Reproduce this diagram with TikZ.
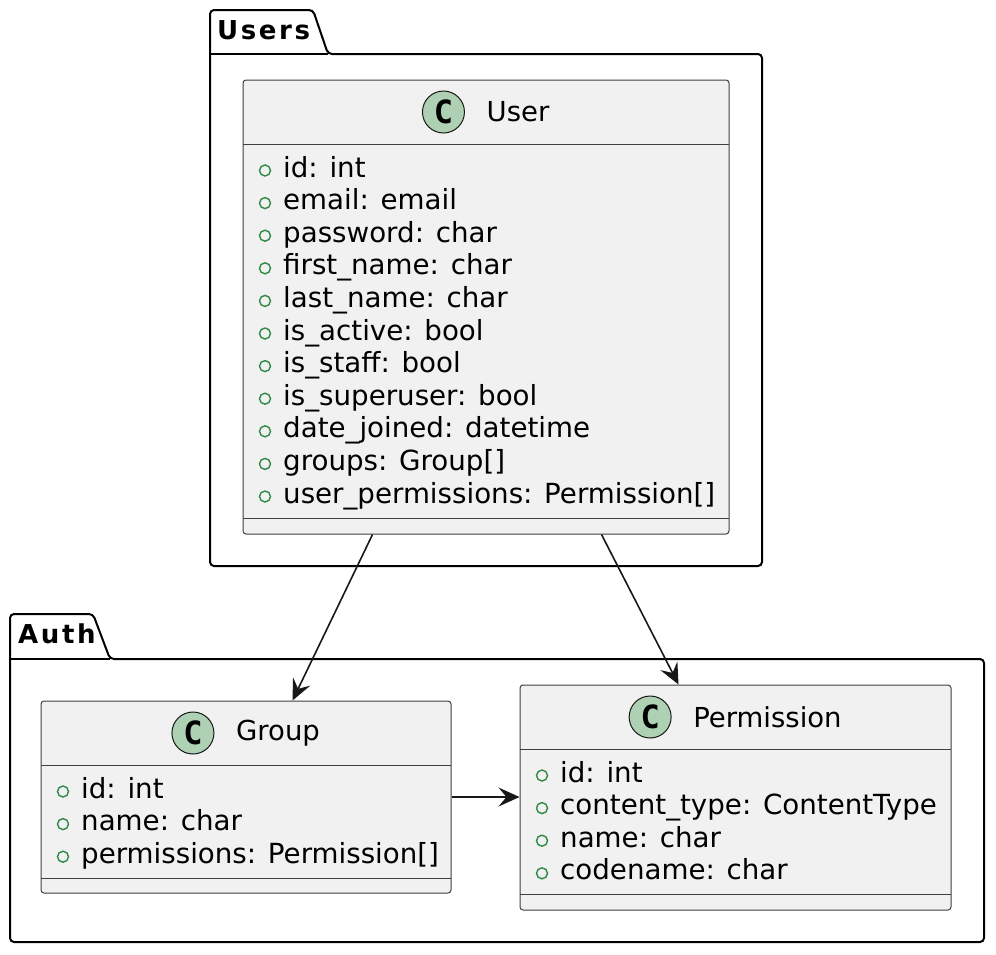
\documentclass[tikz,border=0pt]{standalone}
\usepackage{fontspec}
\setmainfont{DejaVu Sans}
\newfontfamily\titlefont{DejaVu Sans}[LetterSpace=10]
\newfontfamily\cfont{DejaVu Sans Mono}
\usetikzlibrary{arrows.meta,calc}
\definecolor{boxfill}{HTML}{F1F1F1}
\definecolor{boxline}{HTML}{404040}
\definecolor{badge}{HTML}{ADD1B2}
\definecolor{ink}{HTML}{181818}
\definecolor{visgreen}{HTML}{2F8A45}
\tikzset{
  pkgline/.style={draw=black, line width=2pt, rounded corners=4pt, fill=white},
  pkgtitle/.style={inner sep=0, anchor=base west, font=\titlefont\bfseries\fontsize{26}{26}\selectfont},
  classbox/.style={draw=boxline, fill=boxfill, line width=1pt, rounded corners=3pt, inner sep=0},
  sepline/.style={draw=boxline, line width=1pt},
  cbadge/.style={circle, draw=ink, fill=badge, line width=1pt, minimum size=42pt, inner sep=0, font=\cfont\bfseries\fontsize{32}{32}\selectfont},
  cname/.style={inner sep=0, font=\fontsize{27.5}{27.5}\selectfont},
  attr/.style={anchor=base west, inner sep=0, font=\fontsize{27.7}{27.7}\selectfont},
  vis/.style={circle, draw=visgreen, line width=1.4pt, minimum size=11pt, inner sep=0},
  link/.style={draw=ink, line width=1.6pt, -{Stealth[length=21pt,width=19pt,inset=8pt]}}
}
\begin{document}
\begin{tikzpicture}[x=1pt,y=-1pt]
\useasboundingbox (0,0) rectangle (996,954);
% packages
\draw[pkgline] (210,566) -- (210,10) -- (313,10) -- (328,54) -- (762,54) -- (762,566) -- cycle;
\draw[line width=2pt] (210,54) -- (328,54);
\node[pkgtitle] (userspkg) at (217,39) {Users};
\draw[pkgline] (10,942) -- (10,614) -- (93,614) -- (110,659) -- (984,659) -- (984,942) -- cycle;
\draw[line width=2pt] (10,659) -- (110,659);
\node[pkgtitle] (authpkg) at (18,643) {Auth};
% User class
\node[classbox, minimum width=486pt, minimum height=454pt] (user) at (486,307) {};
\node[cname] (username) at (518,112) {User};
\node[cbadge] (userc) at ($(username.west)+(-43,0)$) {C};
\draw[sepline] (243,144) -- (729,144);
\draw[sepline] (243,518) -- (729,518);
\foreach \t [count=\i from 0] in {id: int, email: email, password: char, first\_name: char, last\_name: char, is\_active: bool, is\_staff: bool, is\_superuser: bool, date\_joined: datetime, groups: Group[], user\_permissions: Permission[]} {
  \node[attr] (ua\i) at (283,177+32.6*\i) {\t};
  \node[vis] (uv\i) at (265,170.5+32.6*\i) {};
}
% Group class
\node[classbox, minimum width=410pt, minimum height=192pt] (group) at (246,797) {};
\node[cname] (groupname) at (278,733) {Group};
\node[cbadge] (groupc) at ($(groupname.west)+(-43,0)$) {C};
\draw[sepline] (41,765) -- (451,765);
\draw[sepline] (41,878) -- (451,878);
\foreach \t [count=\i from 0] in {id: int, name: char, permissions: Permission[]} {
  \node[attr] (ga\i) at (81,798+32.6*\i) {\t};
  \node[vis] (gv\i) at (63,791.5+32.6*\i) {};
}
% Permission class
\node[classbox, minimum width=431pt, minimum height=225pt] (perm) at (735.5,797.5) {};
\node[cname] (permname) at (767.5,717) {Permission};
\node[cbadge] (permc) at ($(permname.west)+(-43,0)$) {C};
\draw[sepline] (520,749) -- (951,749);
\draw[sepline] (520,894) -- (951,894);
\foreach \t [count=\i from 0] in {id: int, content\_type: ContentType, name: char, codename: char} {
  \node[attr] (pa\i) at (560,782+32.6*\i) {\t};
  \node[vis] (pv\i) at (542,775.5+32.6*\i) {};
}
% connectors
\draw[link] ([xshift=130pt]user.south west) -- ([xshift=252pt]group.north west);
\draw[link] ([xshift=359pt]user.south west) -- ([xshift=159pt]perm.north west);
\draw[link] (group.east) -- (perm.west |- group.east);
\end{tikzpicture}
\end{document}
